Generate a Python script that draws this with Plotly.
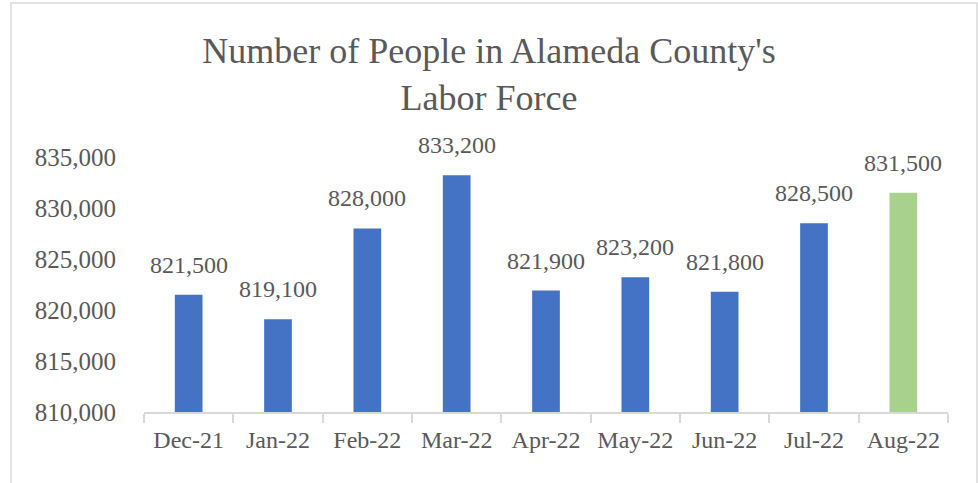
import plotly.graph_objects as go

months = ["Dec-21", "Jan-22", "Feb-22", "Mar-22", "Apr-22", "May-22", "Jun-22", "Jul-22", "Aug-22"]
labor_force = [821500, 819100, 828000, 833200, 821900, 823200, 821800, 828500, 831500]
bar_colors = ["#4472C4"] * 8 + ["#A9D18E"]
y_ticks = [810000, 815000, 820000, 825000, 830000, 835000]

FONT = "Liberation Serif"
TXT = "#595959"

W, H = 978, 483
L, R, T, B = 144, 30, 157, 71

fig = go.Figure(go.Bar(
    x=months,
    y=labor_force,
    marker=dict(color=bar_colors, line=dict(width=0)),
    cliponaxis=False,
    width=0.31,
    hoverinfo="x+y",
))

for m, v in zip(months, labor_force):
    fig.add_annotation(
        x=m, y=v, text=f"{v:,}", showarrow=False,
        xanchor="center", yanchor="bottom", yshift=15,
        font=dict(family=FONT, size=24, color=TXT),
    )

pw = W - L - R
ph = H - T - B

fig.update_layout(
    width=W, height=H,
    margin=dict(l=L, r=R, t=T, b=B, autoexpand=False),
    paper_bgcolor="white",
    plot_bgcolor="white",
    showlegend=False,
    title=dict(
        text="Number of People in Alameda County's<br>Labor Force",
        x=0.5, xanchor="center",
        y=1 - 63 / H, yanchor="middle",
        font=dict(family=FONT, size=36, color=TXT),
    ),
    xaxis=dict(
        showline=True, linecolor="#D9D9D9", linewidth=1.5,
        ticks="outside", tickson="boundaries", ticklen=9, tickcolor="#D9D9D9", tickwidth=1.5,
        tickfont=dict(family=FONT, size=24, color=TXT),
        ticklabelstandoff=5,
        showgrid=False, automargin=False,
    ),
    yaxis=dict(
        range=[810000, 835000],
        tickvals=y_ticks,
        ticktext=[f"{v:,}" for v in y_ticks],
        tickfont=dict(family=FONT, size=25, color=TXT),
        showgrid=False, zeroline=False, showline=False,
        ticks="", ticklabelstandoff=27, automargin=False,
    ),
    shapes=[dict(
        type="rect", xref="paper", yref="paper",
        x0=(11 - L) / pw, x1=(977 - L) / pw,
        y0=-(H - T + 20) / ph, y1=1 + (T - 3) / ph,
        line=dict(color="#D9D9D9", width=1.5), fillcolor="rgba(0,0,0,0)",
    )],
)

fig.write_html(
    "out.html",
    config={"displayModeBar": False},
    post_script="document.body.style.margin='0';document.body.style.overflow='hidden';",
)
